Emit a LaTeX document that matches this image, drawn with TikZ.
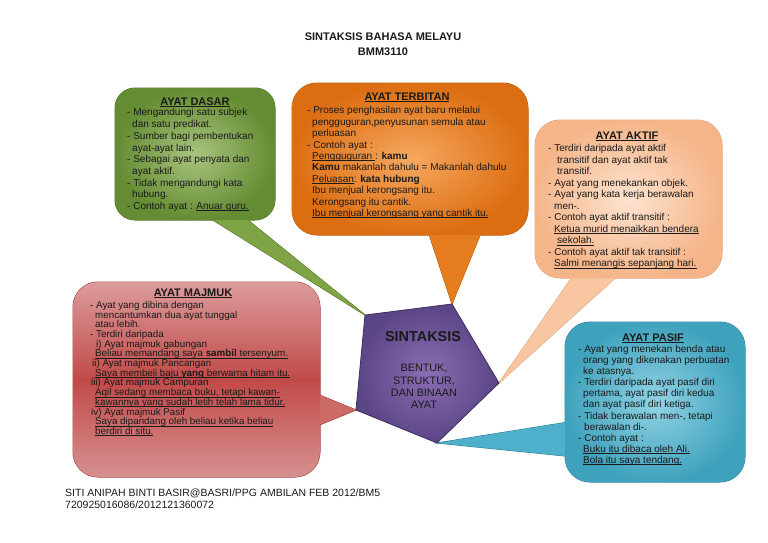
\documentclass[tikz,border=0pt]{standalone}
\usepackage{fontspec}
\setmainfont{Liberation Sans}
\newcommand\myul[1]{\setbox0\hbox{#1}\rlap{\rule[-1.5pt]{\wd0}{0.6pt}}\box0}
\setlength{\lineskiplimit}{-20pt}
\definecolor{tc}{HTML}{1A1A1A}
\definecolor{gOut}{HTML}{648C32}
\definecolor{gIn}{HTML}{A9C47F}
\definecolor{gTail}{HTML}{7EA446}
\definecolor{gEdge}{HTML}{4F7027}
\definecolor{oOut}{HTML}{DC6E12}
\definecolor{oIn}{HTML}{F6A860}
\definecolor{oTail}{HTML}{E57D1F}
\definecolor{oEdge}{HTML}{B8580C}
\definecolor{pOut}{HTML}{F5B589}
\definecolor{pIn}{HTML}{FDE3D0}
\definecolor{pTail}{HTML}{F8C6A0}
\definecolor{pEdge}{HTML}{E0A075}
\definecolor{rTop}{HTML}{DC9C9C}
\definecolor{rMid}{HTML}{C14A48}
\definecolor{rBot}{HTML}{D69090}
\definecolor{rTail}{HTML}{CC6A68}
\definecolor{rEdge}{HTML}{9A3634}
\definecolor{bOut}{HTML}{3FA2BD}
\definecolor{bIn}{HTML}{92D3E4}
\definecolor{bTail}{HTML}{4EB0CA}
\definecolor{bEdge}{HTML}{2F7F96}
\definecolor{vOut}{HTML}{5A4585}
\definecolor{vIn}{HTML}{8B6DB3}
\definecolor{vEdge}{HTML}{3F2F60}
\tikzset{
  txt/.style={inner sep=0pt, anchor=north west, align=left, text=tc},
  hdr/.style={inner sep=0pt, anchor=base, text=tc, font=\fontsize{11}{13}\selectfont\bfseries},
  edge/.style={line width=1pt},
}
\begin{document}
\begin{tikzpicture}[x=1pt,y=-1pt]
\useasboundingbox (0,0) rectangle (768,543);
% pentagon corners
\coordinate (pA) at (365,315);
\coordinate (pB) at (452,304);
\coordinate (pC) at (499,383);
\coordinate (pD) at (437,443);
\coordinate (pE) at (356,410);
% tail bases
\coordinate (g1) at (200,212); \coordinate (g2) at (238,212);
\coordinate (o1) at (427,228); \coordinate (o2) at (483,228);
\coordinate (k1) at (577,270); \coordinate (k2) at (624,270);
\coordinate (r1) at (312,392); \coordinate (r2) at (312,428);
\coordinate (b1) at (575,421); \coordinate (b2) at (575,457);

% ---- green callout
\path[fill=gTail, draw=gEdge, edge] (g1) -- (pA) -- (g2) -- cycle;
\path[draw=gEdge, edge, rounded corners=20pt] (115,88) rectangle (275,220);
\path[fill=gTail] (g1) -- (pA) -- (g2) -- cycle;
\shade[rounded corners=20pt, inner color=gIn, outer color=gOut] (115,88) rectangle (275,220);
% ---- orange callout
\path[fill=oTail, draw=oEdge, edge] (o1) -- (pB) -- (o2) -- cycle;
\path[draw=oEdge, edge, rounded corners=25pt] (292,83) rectangle (528,235);
\path[fill=oTail] (o1) -- (pB) -- (o2) -- cycle;
\shade[rounded corners=25pt, inner color=oIn, outer color=oOut] (292,83) rectangle (528,235);
% ---- peach callout
\path[fill=pTail, draw=pEdge, edge] (k1) -- (pC) -- (k2) -- cycle;
\path[draw=pEdge, edge, rounded corners=25pt] (535,120) rectangle (722,278);
\path[fill=pTail] (k1) -- (pC) -- (k2) -- cycle;
\shade[rounded corners=25pt, inner color=pIn, outer color=pOut] (535,120) rectangle (722,278);
% ---- red callout
\path[fill=rTail, draw=rEdge, edge] (r1) -- (pE) -- (r2) -- cycle;
\path[draw=rEdge, edge, rounded corners=25pt] (73,282) rectangle (320,477);
\path[fill=rTail] (r1) -- (pE) -- (r2) -- cycle;
\shade[rounded corners=25pt, top color=rTop, bottom color=rBot, middle color=rMid] (73,282) rectangle (320,477);
% ---- blue callout
\path[fill=bTail, draw=bEdge, edge] (b1) -- (pD) -- (b2) -- cycle;
\path[draw=bEdge, edge, rounded corners=25pt] (565,322) rectangle (745,482);
\path[fill=bTail] (b1) -- (pD) -- (b2) -- cycle;
\shade[rounded corners=25pt, inner color=bIn, outer color=bOut] (565,322) rectangle (745,482);
% ---- pentagon
\shadedraw[inner color=vIn, outer color=vOut, draw=vEdge, line width=0.8pt] (pA) -- (pB) -- (pC) -- (pD) -- (pE) -- cycle;

% ---- title and footer
\node[inner sep=0pt, align=center, text=tc, font=\fontsize{11}{14.5}\selectfont\bfseries] (title) at (383,44.3) {SINTAKSIS BAHASA MELAYU\\BMM3110};
\node[txt, font=\fontsize{10.5}{12}\selectfont] (foot) at (65,489) {SITI ANIPAH BINTI BASIR@BASRI/PPG AMBILAN FEB 2012/BM5\\720925016086/2012121360072};

% ---- pentagon text
\node[inner sep=0pt, text=tc, font=\fontsize{14.4}{16}\selectfont\bfseries] (sint) at (423,337) {SINTAKSIS};
\node[inner sep=0pt, align=center, text=tc, font=\fontsize{10.8}{12.3}\selectfont] (sub) at (424,386.5) {BENTUK,\\STRUKTUR,\\DAN BINAAN\\AYAT};

% ---- green text
\node[hdr] (hG) at (195,105) {\myul{AYAT DASAR}};
\node[txt, font=\fontsize{10}{11.7}\selectfont] (tG) at (127,108.5) {- Mengandungi satu subjek\\
\hspace*{5pt}dan satu predikat.\\
- Sumber bagi pembentukan\\
\hspace*{5pt}ayat-ayat lain.\\
- Sebagai ayat penyata dan\\
\hspace*{5pt}ayat aktif.\\
- Tidak mengandungi kata\\
\hspace*{5pt}hubung.\\
- Contoh ayat : \myul{Anuar guru.}};

% ---- orange text
\node[hdr] (hO) at (407,100) {\myul{AYAT TERBITAN}};
\node[txt, font=\fontsize{10}{11.4}\selectfont] (tO) at (307,106.5) {- Proses penghasilan ayat baru melalui\\
\hspace*{5pt}pengguguran,penyusunan semula atau\\
\hspace*{5pt}perluasan\\
- Contoh ayat :\\
\hspace*{5pt}\myul{Pengguguran\ }: \textbf{kamu}\\
\hspace*{5pt}\textbf{Kamu} makanlah dahulu = Makanlah dahulu\\
\hspace*{5pt}\myul{Peluasan} : \textbf{kata hubung}\\
\hspace*{5pt}Ibu menjual kerongsang itu.\\
\hspace*{5pt}Kerongsang itu cantik.\\
\hspace*{5pt}\myul{Ibu menjual kerongsang yang cantik itu.}};

% ---- peach text
\node[hdr] (hK) at (627,139) {\myul{AYAT AKTIF}};
\node[txt, font=\fontsize{10}{11.5}\selectfont] (tK) at (548,144.5) {- Terdiri daripada ayat aktif\\
\hspace*{9pt}transitif dan ayat aktif tak\\
\hspace*{9pt}transitif.\\
- Ayat yang menekankan objek.\\
- Ayat yang kata kerja berawalan\\
\hspace*{6pt}men-.\\
- Contoh ayat aktif transitif :\\
\hspace*{6pt}\myul{Ketua murid menaikkan bendera}\\
\hspace*{9pt}\myul{sekolah.}\\
- Contoh ayat aktif tak transitif :\\
\hspace*{6pt}\myul{Salmi menangis sepanjang hari.}};

% ---- red text
\node[hdr] (hR) at (193,296.5) {\myul{AYAT MAJMUK}};
\node[txt, font=\fontsize{9.8}{9.7}\selectfont] (tR) at (90,301) {- Ayat yang dibina dengan\\
\hspace*{5pt}mencantumkan dua ayat tunggal\\
\hspace*{5pt}atau lebih.\\
- Terdiri daripada\\
\hspace*{6pt}i) Ayat majmuk gabungan\\
\hspace*{5pt}\myul{Beliau memandang saya \textbf{sambil} tersenyum.}\\
\hspace*{2pt}ii) Ayat majmuk Pancangan\\
\hspace*{5pt}\myul{Saya membeli baju \textbf{yang} berwarna hitam itu.}\\
\hspace*{1pt}iii) Ayat majmuk Campuran\\
\hspace*{5pt}\myul{Aqil sedang membaca buku, tetapi kawan-}\\
\hspace*{5pt}\myul{kawannya yang sudah letih telah lama tidur.}\\
\hspace*{1pt}iv) Ayat majmuk Pasif\\
\hspace*{5pt}\myul{Saya dipandang oleh beliau ketika beliau}\\
\hspace*{5pt}\myul{berdiri di situ.}};

% ---- blue text
\node[hdr] (hB) at (653,341.5) {\myul{AYAT PASIF}};
\node[txt, font=\fontsize{10}{11.1}\selectfont] (tB) at (578,345) {- Ayat yang menekan benda atau\\
\hspace*{5pt}orang yang dikenakan perbuatan\\
\hspace*{5pt}ke atasnya.\\
- Terdiri daripada ayat pasif diri\\
\hspace*{5pt}pertama, ayat pasif diri kedua\\
\hspace*{5pt}dan ayat pasif diri ketiga.\\
- Tidak berawalan men-, tetapi\\
\hspace*{6pt}berawalan di-.\\
- Contoh ayat :\\
\hspace*{5pt}\myul{Buku itu dibaca oleh Ali.}\\
\hspace*{5pt}\myul{Bola itu saya tendang.}};
\end{tikzpicture}
\end{document}
